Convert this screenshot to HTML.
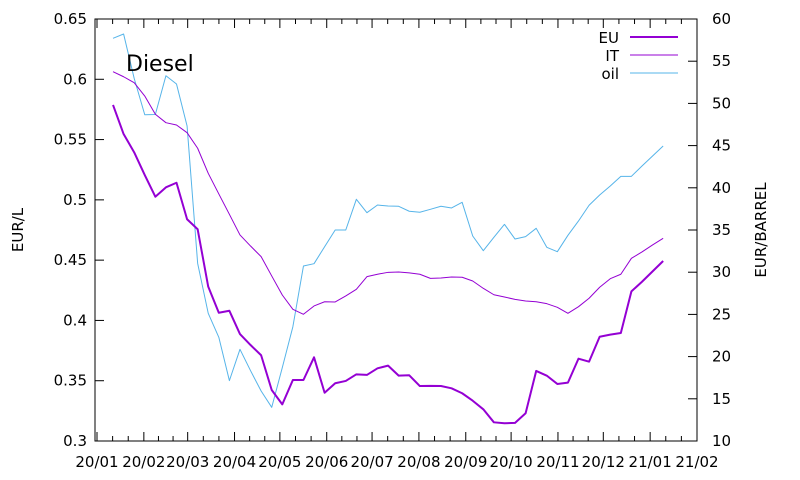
<!DOCTYPE html>
<html><head><meta charset="utf-8"><style>
body{margin:0;background:#fff}
svg{display:block;font-family:"DejaVu Sans","Liberation Sans",sans-serif}
</style></head><body>
<svg id="chart" width="800" height="480" viewBox="0 0 800 480">
<rect x="0" y="0" width="800" height="480" fill="#fff"/>
<g id="ticks"></g>
<g id="labels" font-size="15" fill="#000"></g>
<g id="series"></g>
<rect x="95" y="19" width="602" height="422" fill="none" stroke="#000" stroke-width="1"/>
<text x="126" y="71" font-size="22">Diesel</text>
<text transform="translate(23,230) rotate(-90)" text-anchor="middle" font-size="15">EUR/L</text>
<text transform="translate(766,230) rotate(-90)" text-anchor="middle" font-size="15">EUR/BARREL</text>
<g font-size="15">
<g><text x="619" y="43" text-anchor="end">EU</text><line x1="630" y1="37" x2="678" y2="37" stroke="#9400d3" stroke-width="2"/></g>
<g><text x="619" y="61" text-anchor="end">IT</text><line x1="630" y1="55" x2="678" y2="55" stroke="#9400d3" stroke-width="1"/></g>
<g><text x="619" y="79" text-anchor="end">oil</text><line x1="630" y1="73" x2="678" y2="73" stroke="#56b4e9" stroke-width="1"/></g>
</g>
</svg>
<script>
const monthLabels=["20/01","20/02","20/03","20/04","20/05","20/06","20/07","20/08","20/09","20/10","20/11","20/12","21/01","21/02"];
const monthStartDays=[0,31,60,91,121,152,182,213,244,274,305,335,366,397];
const leftTicks=[0.3,0.35,0.4,0.45,0.5,0.55,0.6,0.65];
const leftTickLabels=["0.3","0.35","0.4","0.45","0.5","0.55","0.6","0.65"];
const rightTicks=[10,15,20,25,30,35,40,45,50,55,60];
const firstDay=10.6;
const stepDays=7;
const euValues=[0.5787,0.5546,0.5394,0.5206,0.5026,0.5104,0.5142,0.4839,0.4756,0.428,0.4064,0.408,0.3887,0.3796,0.3711,0.3423,0.3304,0.3506,0.3506,0.3694,0.34,0.3479,0.3498,0.3553,0.3548,0.3603,0.3625,0.3542,0.3545,0.3456,0.3457,0.3456,0.3437,0.3396,0.3334,0.3263,0.3155,0.3147,0.315,0.323,0.3581,0.3542,0.3473,0.3484,0.3683,0.3658,0.3865,0.3882,0.3896,0.4241,0.4321,0.4407,0.4493];
const itValues=[0.6063,0.6021,0.5972,0.5861,0.571,0.564,0.5621,0.5557,0.5428,0.522,0.5049,0.488,0.4709,0.4617,0.4529,0.4369,0.4211,0.4092,0.4051,0.412,0.4155,0.4153,0.4203,0.4258,0.4363,0.4383,0.4399,0.4402,0.4394,0.4383,0.4349,0.4352,0.436,0.4358,0.4327,0.4266,0.4213,0.4194,0.4175,0.4161,0.4155,0.4139,0.4109,0.4059,0.4114,0.4184,0.4275,0.4346,0.4383,0.4515,0.4568,0.4626,0.4681];
const oilValues=[57.71,58.22,52.97,48.66,48.68,53.28,52.3,47.32,31.05,25.13,22.29,17.15,20.86,18.33,15.92,13.99,18.69,23.54,30.73,31.01,33.02,35.0,35.0,38.64,37.05,37.96,37.84,37.81,37.22,37.1,37.45,37.81,37.61,38.28,34.29,32.55,34.13,35.67,33.93,34.21,35.2,32.95,32.43,34.37,36.07,37.93,39.15,40.21,41.36,41.36,42.58,43.77,44.95];

const NS="http://www.w3.org/2000/svg";
const X0=97,PXD=600/397,TOP=19,BOT=441,L=95,R=697;
const xDay=d=>X0+d*PXD;
const yLeft=v=>BOT-(v-0.3)/0.35*(BOT-TOP);
const yRight=v=>BOT-(v-10)/50*(BOT-TOP);
function mk(tag,attrs,parent){const e=document.createElementNS(NS,tag);for(const k in attrs)e.setAttribute(k,attrs[k]);parent.appendChild(e);return e;}
const ticks=document.getElementById('ticks'),labels=document.getElementById('labels'),series=document.getElementById('series');
// x ticks
for(let i=0;i<monthStartDays.length;i++){
  const x=xDay(monthStartDays[i]);
  const t1=mk('line',{x1:x,y1:BOT,x2:x,y2:BOT-9,stroke:'#000'},ticks);
  
  
  const t2=mk('line',{x1:x,y1:TOP,x2:x,y2:TOP+9,stroke:'#000'},ticks);
  
  
  const lb=mk('text',{x:x,y:467,'text-anchor':'middle'},labels);
  lb.textContent=monthLabels[i];
  
  
  if(i<monthStartDays.length-1){
    const len=monthStartDays[i+1]-monthStartDays[i];
    for(let k=1;k<3;k++){
      const xm=xDay(monthStartDays[i]+len*k/3);
      const m1=mk('line',{x1:xm,y1:BOT,x2:xm,y2:BOT-5,stroke:'#000'},ticks);
      
      
      const m2=mk('line',{x1:xm,y1:TOP,x2:xm,y2:TOP+5,stroke:'#000'},ticks);
      
      
    }
  }
}
leftTicks.forEach((v,i)=>{
  const y=yLeft(v);
  const t=mk('line',{x1:L,y1:y,x2:L+9,y2:y,stroke:'#000'},ticks);
  
  
  const lb=mk('text',{x:87,y:y+5,'text-anchor':'end'},labels);
  lb.textContent=leftTickLabels[i];
  
  
});
rightTicks.forEach(v=>{
  const y=yRight(v);
  const t=mk('line',{x1:R,y1:y,x2:R-9,y2:y,stroke:'#000'},ticks);
  
  
  const lb=mk('text',{x:712,y:y+5,'text-anchor':'start'},labels);
  lb.textContent=String(v);
  
  
});
function line(vals,yf,color,w,name){
  const pts=vals.map((v,i)=>xDay(firstDay+i*stepDays).toFixed(2)+','+yf(v).toFixed(2)).join(' ');
  const p=mk('polyline',{points:pts,fill:'none',stroke:color,'stroke-width':w,'stroke-linejoin':'round'},series);
  
  
}
line(oilValues,yRight,'#56b4e9',1,'oil-line');
line(itValues,yLeft,'#9400d3',1,'it-line');
line(euValues,yLeft,'#9400d3',2,'eu-line');
</script>
</body></html>
